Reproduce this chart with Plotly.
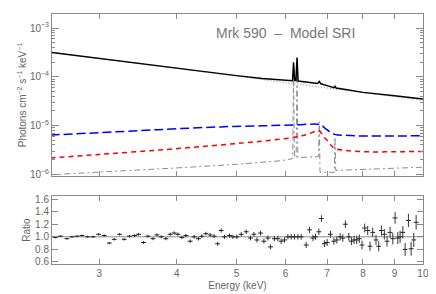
import plotly.graph_objects as go
from plotly.subplots import make_subplots
import math

# ---- model components (energy keV, photons cm^-2 s^-1 keV^-1) ----
tot_E = [2.5, 3.0, 3.5, 4.0, 4.5, 5.0, 5.5, 5.8, 6.14, 6.155, 6.18, 6.205, 6.235, 6.26, 6.285,
         6.5, 6.76, 6.80, 6.84, 7.0, 7.13, 7.18, 7.21, 7.24, 7.5, 8.0, 9.0, 10.0]
tot_F = [3.2e-4, 2.38e-4, 1.9e-4, 1.49e-4, 1.24e-4, 1.06e-4, 9.3e-5, 8.8e-5, 8.3e-5, 8.3e-5, 2.0e-4, 8.4e-5, 8.4e-5, 2.5e-4, 8.2e-5,
         7.8e-5, 7.3e-5, 8.0e-5, 7.2e-5, 6.6e-5, 6.1e-5, 6.0e-5, 6.4e-5, 5.9e-5, 5.5e-5, 4.8e-5, 4.1e-5, 3.5e-5]

pl_E = [2.5, 3.0, 4.0, 5.0, 6.0, 7.0, 8.0, 9.0, 10.0]
pl_F = [3.2e-4, 2.37e-4, 1.48e-4, 1.03e-4, 7.6e-5, 5.9e-5, 4.75e-5, 3.92e-5, 3.3e-5]

line_E = [2.5, 3.0, 4.0, 5.0, 5.9, 6.1, 6.16, 6.18, 6.20, 6.24, 6.26, 6.28, 6.6, 6.78, 6.80, 6.82,
          7.19, 7.21, 7.23, 8.0, 9.0, 10.0]
line_F = [9.8e-7, 1.1e-6, 1.35e-6, 1.6e-6, 1.9e-6, 2.05e-6, 2.1e-6, 1.2e-4, 2.2e-6, 2.2e-6, 1.7e-4, 2.2e-6,
          2.25e-6, 2.3e-6, 1.2e-5, 1.1e-6, 1.1e-6, 5.8e-6, 1.2e-6, 1.25e-6, 1.32e-6, 1.4e-6]

red_E = [2.5, 3.0, 3.76, 4.7, 5.5, 6.2, 6.5, 6.8, 6.9, 7.0, 7.1, 7.2, 7.5, 8.1, 9.0, 10.0]
red_F = [2.16e-6, 2.56e-6, 3.16e-6, 4.0e-6, 4.8e-6, 5.75e-6, 6.6e-6, 7.8e-6, 6.0e-6, 5.0e-6, 4.0e-6, 3.4e-6,
         3.1e-6, 2.9e-6, 2.9e-6, 2.95e-6]

blue_E = [2.5, 3.0, 3.5, 4.0, 4.7, 5.5, 6.2, 6.75, 6.85, 6.95, 7.2, 7.5, 8.1, 9.0, 10.0]
blue_F = [6.4e-6, 7.15e-6, 7.9e-6, 8.6e-6, 9.4e-6, 9.9e-6, 1.03e-5, 1.07e-5, 1.03e-5, 8.8e-6, 6.6e-6,
          6.3e-6, 6.1e-6, 6.1e-6, 6.2e-6]

# ---- data / model ratio ----
ratio_E = [2.546, 2.594, 2.659, 2.709, 2.760, 2.812, 2.871, 2.930, 2.991, 3.055, 3.113, 3.171, 3.234, 3.290,
           3.356, 3.420, 3.471, 3.536, 3.594, 3.662, 3.717, 3.777, 3.843, 3.905, 3.964, 4.019, 4.078, 4.140,
           4.206, 4.269, 4.337, 4.392, 4.458, 4.530, 4.598, 4.659, 4.721, 4.779, 4.869, 4.931, 5.005, 5.086,
           5.182, 5.265, 5.332, 5.392, 5.464, 5.534, 5.617, 5.672, 5.755, 5.828, 5.902, 5.975, 6.051, 6.125,
           6.200, 6.280, 6.358, 6.477, 6.558, 6.642, 6.707, 6.790, 6.856, 6.932, 7.003, 7.089, 7.180, 7.260,
           7.350, 7.423, 7.495, 7.591, 7.664, 7.741, 7.818, 7.893, 7.973, 8.054, 8.144, 8.214, 8.297, 8.399,
           8.484, 8.570, 8.664, 8.752, 8.851, 8.941, 9.018, 9.109, 9.187, 9.281, 9.361, 9.476, 9.572, 9.667,
           9.752]
ratio_V = [0.99, 1.01, 0.97, 1.00, 1.01, 1.02, 1.00, 1.00, 1.04, 1.02, 0.90, 0.96, 1.04, 0.96,
           1.01, 1.02, 1.04, 0.91, 1.01, 0.97, 1.03, 1.00, 0.97, 1.04, 1.06, 1.04, 0.99, 1.02,
           0.93, 1.00, 0.97, 1.01, 1.05, 1.03, 1.01, 0.89, 1.10, 1.00, 1.02, 1.00, 1.00, 1.04,
           1.08, 0.98, 1.04, 0.95, 1.06, 0.93, 0.98, 0.84, 0.97, 0.97, 0.93, 0.95, 1.00, 1.00,
           1.00, 1.00, 1.00, 0.87, 1.11, 0.98, 1.00, 1.08, 1.29, 0.89, 0.91, 1.04, 0.93, 0.95,
           1.00, 0.98, 1.20, 1.00, 0.93, 0.95, 0.95, 0.97, 0.87, 1.14, 1.10, 0.85, 1.07, 0.95,
           0.85, 1.10, 1.04, 0.93, 1.07, 0.97, 1.30, 0.98, 1.00, 1.07, 0.80, 1.26, 0.81, 0.95,
           1.23]
ratio_err = [0.015, 0.015, 0.015, 0.016, 0.016, 0.017, 0.017, 0.018, 0.018, 0.019, 0.019, 0.020, 0.020, 0.021,
             0.021, 0.022, 0.022, 0.023, 0.023, 0.024, 0.024, 0.025, 0.025, 0.026, 0.026, 0.027, 0.027, 0.028,
             0.028, 0.029, 0.029, 0.030, 0.030, 0.031, 0.031, 0.032, 0.033, 0.033, 0.034, 0.034, 0.035, 0.035,
             0.036, 0.037, 0.037, 0.038, 0.038, 0.039, 0.040, 0.040, 0.041, 0.041, 0.042, 0.043, 0.043, 0.044,
             0.045, 0.045, 0.046, 0.047, 0.048, 0.049, 0.050, 0.051, 0.052, 0.053, 0.054, 0.055, 0.056, 0.057,
             0.058, 0.059, 0.060, 0.062, 0.063, 0.064, 0.066, 0.067, 0.069, 0.070, 0.072, 0.073, 0.075, 0.077,
             0.079, 0.081, 0.083, 0.085, 0.087, 0.090, 0.092, 0.095, 0.097, 0.100, 0.103, 0.106, 0.109, 0.112,
             0.115]

x_ticks = [3, 4, 5, 6, 7, 8, 9, 10]
y_ticks = [1e-6, 1e-5, 1e-4, 1e-3]
y_ticklabels = ["10<sup>−6</sup>", "10<sup>−5</sup>", "10<sup>−4</sup>", "10<sup>−3</sup>"]
r_ticks = [0.6, 0.8, 1.0, 1.2, 1.4, 1.6]
r_ticklabels = ["0.6", "0.8", "1.0", "1.2", "1.4", "1.6"]

AX = "#8a8a8a"
TXT = "#666666"
FONT = "Liberation Sans, Arial, sans-serif"

fig = make_subplots(rows=2, cols=1, shared_xaxes=False, vertical_spacing=0.08)

fig.add_trace(go.Scatter(x=line_E, y=line_F, mode="lines",
                         line=dict(color="#8c8c8c", width=1, dash="6px,3px,2px,3px")), row=1, col=1)
fig.add_trace(go.Scatter(x=pl_E, y=pl_F, mode="lines",
                         line=dict(color="#8c8c8c", width=1, dash="1px,2px")), row=1, col=1)
fig.add_trace(go.Scatter(x=red_E, y=red_F, mode="lines", line_shape="spline",
                         line=dict(color="#ff0000", width=1.5, dash="5px,4px")), row=1, col=1)
fig.add_trace(go.Scatter(x=blue_E, y=blue_F, mode="lines", line_shape="spline",
                         line=dict(color="#0000ff", width=1.5, dash="9px,4px")), row=1, col=1)
fig.add_trace(go.Scatter(x=tot_E, y=tot_F, mode="lines",
                         line=dict(color="#000000", width=1.5)), row=1, col=1)

fig.add_trace(go.Scatter(x=ratio_E, y=ratio_V, mode="markers",
                         marker=dict(size=1, color="rgba(0,0,0,0)"),
                         error_y=dict(type="data", array=ratio_err, color="#333333", thickness=1, width=0),
                         error_x=dict(type="percent", value=0.9, color="#222222", thickness=1, width=0)),
              row=2, col=1)

xr = [math.log10(2.515), 1.0002]
minor_y = [m * 10.0 ** p for p in (-7, -6, -5, -4, -3) for m in range(2, 10)]

common_x = dict(type="log", range=xr, showgrid=False, zeroline=False, showline=True, automargin=False,
                linecolor=AX, linewidth=1, mirror="allticks", ticks="inside", ticklen=5,
                tickcolor=AX, tickvals=x_ticks, ticktext=[str(v) for v in x_ticks],
                tickfont=dict(family=FONT, size=10, color=TXT))

fig.update_xaxes(**common_x, showticklabels=False, row=1, col=1)
fig.update_xaxes(**common_x, showticklabels=True, row=2, col=1,
                 title=dict(text="Energy (keV)", font=dict(family=FONT, size=10, color=TXT), standoff=3))

fig.update_yaxes(type="log", range=[-6.035, -2.71], showgrid=False, zeroline=False, showline=True,
                 automargin=False,
                 linecolor=AX, linewidth=1, mirror="allticks", ticks="inside", ticklen=7, tickcolor=AX,
                 tickvals=y_ticks, ticktext=y_ticklabels,
                 minor=dict(ticks="inside", ticklen=3, tickcolor=AX, tickvals=minor_y, showgrid=False),
                 tickfont=dict(family=FONT, size=10, color=TXT),
                 title=dict(text="Photons cm<sup>−2</sup> s<sup>−1</sup> keV<sup>−1</sup>",
                            font=dict(family=FONT, size=10, color=TXT), standoff=1),
                 row=1, col=1)
fig.update_yaxes(range=[0.568, 1.648], showgrid=False, zeroline=False, showline=True, automargin=False,
                 linecolor=AX, linewidth=1, mirror="allticks", ticks="inside", ticklen=6, tickcolor=AX,
                 tickvals=r_ticks, ticktext=r_ticklabels,
                 tickfont=dict(family=FONT, size=10, color=TXT),
                 title=dict(text="Ratio", font=dict(family=FONT, size=10, color=TXT), standoff=2),
                 row=2, col=1)

# the page body adds an 8px offset, so margins compensate for it
fig.update_layout(
    width=436, height=294,
    margin=dict(l=44, r=21, t=6, b=38),
    plot_bgcolor="white", paper_bgcolor="white",
    showlegend=False,
    yaxis=dict(domain=[0.352, 1.0]),
    yaxis2=dict(domain=[0.0, 0.272]),
    shapes=[dict(type="line", xref="x2 domain", yref="y2", x0=0, x1=1, y0=1.0, y1=1.0,
                 line=dict(color=AX, width=1), layer="below")],
    annotations=[dict(text="Mrk 590  –  Model SRI", xref="paper", yref="paper",
                      x=(285.5 - 52) / 371, y=(264 - 33) / 250, xanchor="center", yanchor="middle",
                      showarrow=False, font=dict(family=FONT, size=14, color="#777777"))],
)

fig.write_html("out.html")
